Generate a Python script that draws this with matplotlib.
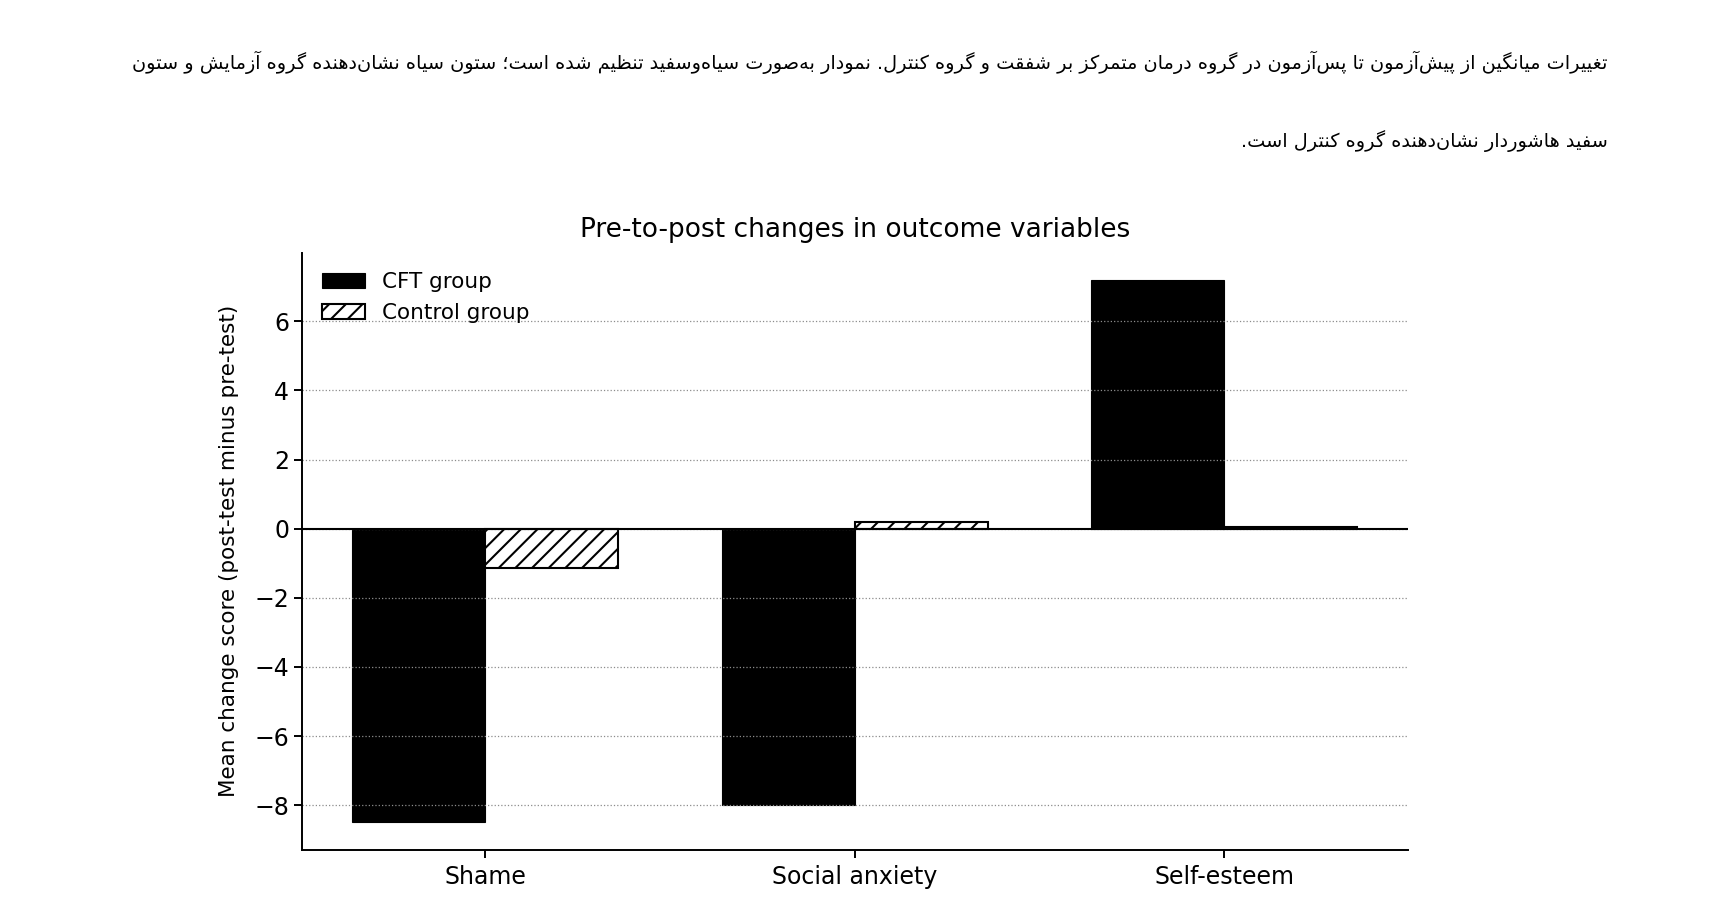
import numpy as np
import matplotlib
matplotlib.use("Agg")
import matplotlib.pyplot as plt

# data
categories = ["Shame", "Social anxiety", "Self-esteem"]
cft_change = [-8.5, -8.0, 7.2]
control_change = [-1.15, 0.2, 0.05]
series_names = ["CFT group", "Control group"]

title = "Pre-to-post changes in outcome variables"
ylabel = "Mean change score (post-test minus pre-test)"
caption_lines = [
    "تغییرات میانگین از پیش\u200cآزمون تا پس\u200cآزمون در گروه درمان متمرکز بر شفقت و گروه کنترل. "
    "نمودار به\u200cصورت سیاه\u200cوسفید تنظیم شده است؛ ستون سیاه نشان\u200cدهنده گروه آزمایش و ستون",
    "سفید هاشوردار نشان\u200cدهنده گروه کنترل است.",
]

# ---- simple Persian shaping (matplotlib has no bidi / joining) ----
# letter: (isolated, final, initial, medial); right-joining letters have only 2 forms
FORMS = {
    "ا": (0xFE8D, 0xFE8E), "آ": (0xFE81, 0xFE82),
    "ب": (0xFE8F, 0xFE90, 0xFE91, 0xFE92), "پ": (0xFB56, 0xFB57, 0xFB58, 0xFB59),
    "ت": (0xFE95, 0xFE96, 0xFE97, 0xFE98), "ث": (0xFE99, 0xFE9A, 0xFE9B, 0xFE9C),
    "ج": (0xFE9D, 0xFE9E, 0xFE9F, 0xFEA0), "چ": (0xFB7A, 0xFB7B, 0xFB7C, 0xFB7D),
    "ح": (0xFEA1, 0xFEA2, 0xFEA3, 0xFEA4), "خ": (0xFEA5, 0xFEA6, 0xFEA7, 0xFEA8),
    "د": (0xFEA9, 0xFEAA), "ذ": (0xFEAB, 0xFEAC), "ر": (0xFEAD, 0xFEAE),
    "ز": (0xFEAF, 0xFEB0), "ژ": (0xFB8A, 0xFB8B),
    "س": (0xFEB1, 0xFEB2, 0xFEB3, 0xFEB4), "ش": (0xFEB5, 0xFEB6, 0xFEB7, 0xFEB8),
    "ص": (0xFEB9, 0xFEBA, 0xFEBB, 0xFEBC), "ض": (0xFEBD, 0xFEBE, 0xFEBF, 0xFEC0),
    "ط": (0xFEC1, 0xFEC2, 0xFEC3, 0xFEC4), "ظ": (0xFEC5, 0xFEC6, 0xFEC7, 0xFEC8),
    "ع": (0xFEC9, 0xFECA, 0xFECB, 0xFECC), "غ": (0xFECD, 0xFECE, 0xFECF, 0xFED0),
    "ف": (0xFED1, 0xFED2, 0xFED3, 0xFED4), "ق": (0xFED5, 0xFED6, 0xFED7, 0xFED8),
    "ک": (0xFB8E, 0xFB8F, 0xFB90, 0xFB91), "گ": (0xFB92, 0xFB93, 0xFB94, 0xFB95),
    "ل": (0xFEDD, 0xFEDE, 0xFEDF, 0xFEE0), "م": (0xFEE1, 0xFEE2, 0xFEE3, 0xFEE4),
    "ن": (0xFEE5, 0xFEE6, 0xFEE7, 0xFEE8), "و": (0xFEED, 0xFEEE),
    "ه": (0xFEE9, 0xFEEA, 0xFEEB, 0xFEEC), "ی": (0xFBFC, 0xFBFD, 0xFBFE, 0xFBFF),
}


def shape_fa(s):
    out = []
    for i, ch in enumerate(s):
        if ch not in FORMS:
            if ch != "\u200c":
                out.append(ch)
            continue
        prev = s[i - 1] if i > 0 else ""
        nxt = s[i + 1] if i + 1 < len(s) else ""
        f = FORMS[ch]
        join_prev = prev in FORMS and len(FORMS[prev]) == 4
        join_next = len(f) == 4 and nxt in FORMS
        if join_prev and join_next:
            code = f[3]
        elif join_prev:
            code = f[1]
        elif join_next:
            code = f[2]
        else:
            code = f[0]
        out.append(chr(code))
    return "".join(out)[::-1]


plt.rcParams["font.family"] = ["DejaVu Sans"]
plt.rcParams["hatch.linewidth"] = 1.5

fig = plt.figure(figsize=(17.27, 9.19), dpi=100)
ax = fig.add_axes([0.175, 0.0755, 0.64, 0.6495])

x = np.arange(len(categories))
w = 0.36
ax.bar(x - w / 2, cft_change, w, color="black", edgecolor="black",
       linewidth=0.8, label=series_names[0])
ax.bar(x + w / 2, control_change, w, color="white", edgecolor="black",
       linewidth=1.5, hatch="//", label=series_names[1])
ax.axhline(0, color="black", linewidth=1.5)

ax.set_xticks(x)
ax.set_xticklabels(categories, fontsize=17)
ax.tick_params(axis="y", labelsize=17)
ax.tick_params(width=1.4, length=6)
ax.tick_params(axis="x", pad=5)
ax.set_ylabel(ylabel, fontsize=15.5, labelpad=11)
ax.set_title(title, fontsize=19, pad=11)
ax.yaxis.grid(True, linestyle=":", color="0.55", linewidth=0.9)
for side in ["top", "right"]:
    ax.spines[side].set_visible(False)
for side in ["left", "bottom"]:
    ax.spines[side].set_linewidth(1.4)
ax.legend(loc="upper left", frameon=False, fontsize=15.5)

ys = [0.932, 0.847]
for line, y in zip(caption_lines, ys):
    fig.text(0.931, y, shape_fa(line), ha="right", va="center",
             fontsize=13.9, family=["DejaVu Sans"])

fig.savefig("out.png", dpi=100)
